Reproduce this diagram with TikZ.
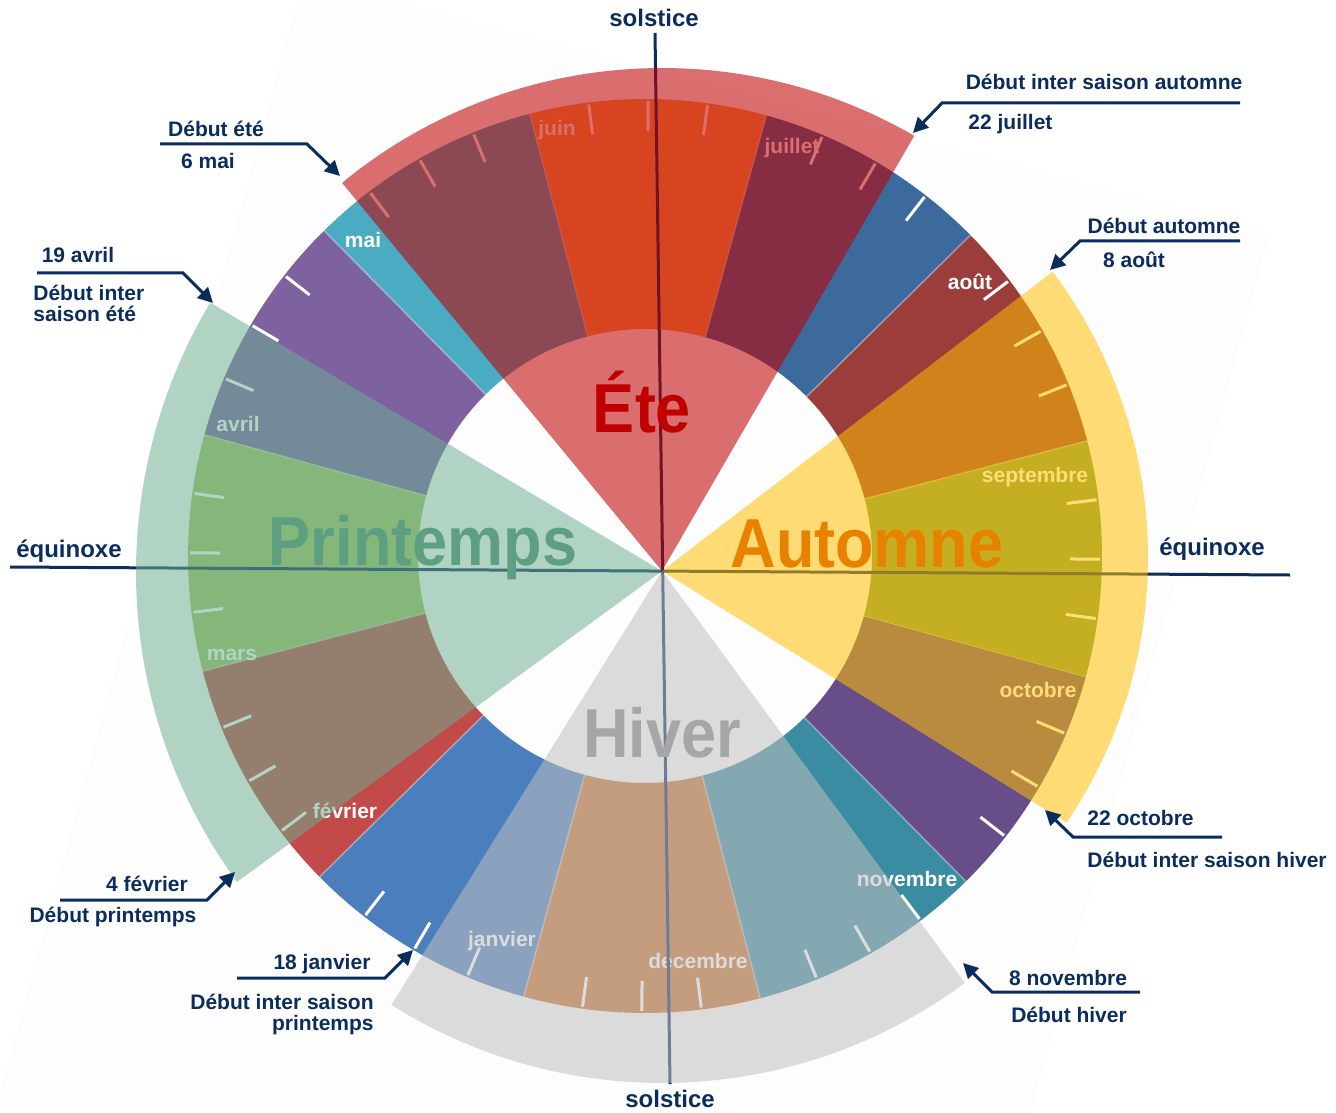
\documentclass[tikz,border=0pt]{standalone}
\usepackage{fontspec}
\setmainfont{Liberation Sans}
\usetikzlibrary{calc,arrows.meta}
\definecolor{navy}{HTML}{0B2D5E}
\definecolor{bgsq}{HTML}{FDFDFD}
\definecolor{csep}{HTML}{7F9949}
\definecolor{caou}{HTML}{9B3D3B}
\definecolor{cjul}{HTML}{3D6A9D}
\definecolor{cjun}{HTML}{F3A04A}
\definecolor{cmai}{HTML}{4AABC2}
\definecolor{cavr}{HTML}{7E62A0}
\definecolor{cmar}{HTML}{9FC060}
\definecolor{cfev}{HTML}{C24A48}
\definecolor{cjan}{HTML}{4A7EBD}
\definecolor{cdec}{HTML}{C97430}
\definecolor{cnov}{HTML}{3A8CA2}
\definecolor{coct}{HTML}{674E89}
\definecolor{wete}{HTML}{C00000}
\definecolor{wpri}{HTML}{6CAF91}
\definecolor{whiv}{HTML}{C0C0C0}
\definecolor{waut}{HTML}{FFC000}
\definecolor{tpri}{HTML}{5E9F82}
\definecolor{taut}{HTML}{E88100}
\definecolor{thiv}{HTML}{A6A6A6}
\tikzset{
  annot/.style={font=\fontsize{10.5pt}{10.5pt}\selectfont\bfseries, text=navy, inner sep=0pt},
  axlabel/.style={font=\fontsize{12pt}{12pt}\selectfont\bfseries, text=navy, inner sep=0pt},
  month/.style={font=\fontsize{10.5pt}{10.5pt}\selectfont\bfseries, text=white, inner sep=0pt},
  season/.style={font=\fontsize{31.5pt}{31.5pt}\selectfont\bfseries, inner sep=0pt, anchor=base},
  pointer/.style={draw=navy, line width=1.5pt, -{Triangle[length=7.5pt,width=7.5pt]}},
  axis/.style={draw=navy, line width=1.5pt},
  tick/.style={draw=white, line width=1.5pt},
}
\begin{document}
\begin{tikzpicture}[x=0.5pt,y=0.5pt]
\useasboundingbox (0,0) rectangle (1336,-1112);
\fill[white] (0,0) rectangle (1336,-1112);
% faint rotated backdrop
\begin{scope}
\clip (0,0) rectangle (1336,-1112);
\fill[bgsq] (303,22) -- (1270,-233) -- (929,-1488) -- (-38,-1232) -- cycle;
\end{scope}
\coordinate (O) at (645,-556);
\coordinate (A) at (662,-571);
% month ring
\foreach \a/\c in {344.6/csep,14.6/caou,44.6/cjul,74.6/cjun,104.6/cmai,134.6/cavr,164.6/cmar,194.6/cfev,224.6/cjan,254.6/cdec,284.6/cnov,314.6/coct}{
  \fill[\c] ($(O)+(\a:227)$) arc[start angle=\a, end angle=\a+30, radius=227]
     -- ($(O)+(\a+30:457)$) arc[start angle=\a+30, end angle=\a, radius=457] -- cycle;
  \draw[white, opacity=0.35, line width=0.8pt] ($(O)+(\a:227)$) -- ($(O)+(\a:457)$);
  \foreach \k in {1,2,3}{
    \draw[tick] ($(O)+(\a+7.5*\k:425)$) -- ($(O)+(\a+7.5*\k:455)$);
  }
}
% month labels
\node[month] (lsep) at (1035,-477) {septembre};
\node[month] (laou) at (970,-282) {août};
\node[month] (ljul) at (792,-148) {juillet};
\node[month] (ljun) at (557,-130) {juin};
\node[month] (lmai) at (363,-240) {mai};
\node[month] (lavr) at (238,-424) {avril};
\node[month] (lmar) at (232,-655) {mars};
\node[month] (lfev) at (345,-811) {février};
\node[month] (ljan) at (502,-941) {janvier};
\node[month] (ldec) at (698,-961) {decembre};
\node[month] (lnov) at (907,-879) {novembre};
\node[month] (loct) at (1038,-690) {octobre};
% axes
\coordinate (st) at (655,-33);
\coordinate (sb) at (670,-1084);
\coordinate (el) at (10,-567);
\coordinate (er) at (1290,-575);
\draw[axis] (st) -- (sb);
\draw[axis] (el) -- (er);
\node[axlabel] (solt) at (654,-18) {solstice};
\node[axlabel] (solb) at (670,-1099) {solstice};
\node[axlabel] (eql) at (69,-551) {équinoxe};
\node[axlabel] (eqr) at (1212,-549) {équinoxe};
% season wedges
\fill[wete, fill opacity=0.57] (A) -- ($(662,-571)+(59.9:503)$) arc[start angle=59.9, end angle=129.5, radius=503] -- cycle;
\fill[wpri, fill opacity=0.53] (A) -- ($(662,-572)+(149.2:526)$) arc[start angle=149.2, end angle=216.1, radius=526] -- cycle;
\fill[whiv, fill opacity=0.55] (A) -- ($(662,-575)+(237.8:508)$) arc[start angle=237.8, end angle=306.6, radius=508] -- cycle;
\fill[waut, fill opacity=0.54] (A) -- ($(674,-557)+(-34.1:474)$) arc[start angle=-34.1, end angle=37, radius=474] -- cycle;
% season names
\node[season, text=wete] (sete) at (642,-432) {\scalebox{1}[1.1]{Éte}};
\node[season, text=tpri] (spri) at (423,-565) {\scalebox{1}[1.1]{Printemps}};
\node[season, text=taut] (saut) at (867,-567) {\scalebox{1}[1.1]{Automne}};
\node[season, text=thiv] (shiv) at (662,-757) {\scalebox{1}[1.1]{Hiver}};
% annotations
\coordinate (p1a) at (160,-144); \coordinate (p1b) at (307,-144); \coordinate (p1c) at (340,-176);
\draw[pointer] (p1a) -- (p1b) -- (p1c);
\node[annot] (t1a) at (216,-129) {Début été};
\node[annot] (t1b) at (208,-161) {6 mai};

\coordinate (p2a) at (1240,-103); \coordinate (p2b) at (942,-103); \coordinate (p2c) at (913,-133);
\draw[pointer] (p2a) -- (p2b) -- (p2c);
\node[annot] (t2a) at (1104,-82) {Début inter saison automne};
\node[annot, anchor=west] (t2b) at (968,-124) {22 juillet};

\coordinate (p3a) at (1240,-241); \coordinate (p3b) at (1080,-241); \coordinate (p3c) at (1050,-270);
\draw[pointer] (p3a) -- (p3b) -- (p3c);
\node[annot] (t3a) at (1164,-226) {Début automne};
\node[annot] (t3b) at (1134,-260) {8 août};

\coordinate (p4a) at (37,-273); \coordinate (p4b) at (183,-273); \coordinate (p4c) at (213,-303);
\draw[pointer] (p4a) -- (p4b) -- (p4c);
\node[annot] (t4a) at (78,-255) {19 avril};
\node[annot, anchor=west] (t4b) at (33,-293) {Début inter};
\node[annot, anchor=west] (t4c) at (33,-314) {saison été};

\coordinate (p5a) at (60,-900); \coordinate (p5b) at (207,-900); \coordinate (p5c) at (235,-872);
\draw[pointer] (p5a) -- (p5b) -- (p5c);
\node[annot] (t5a) at (147,-884) {4 février};
\node[annot] (t5b) at (113,-917) {Début printemps};

\coordinate (p6a) at (237,-978); \coordinate (p6b) at (385,-978); \coordinate (p6c) at (413,-950);
\draw[pointer] (p6a) -- (p6b) -- (p6c);
\node[annot] (t6a) at (322,-964) {18 janvier};
\node[annot, anchor=east] (t6b) at (374,-1002) {Début inter saison};
\node[annot, anchor=east] (t6c) at (374,-1025) {printemps};

\coordinate (p7a) at (1140,-992); \coordinate (p7b) at (992,-992); \coordinate (p7c) at (963,-963);
\draw[pointer] (p7a) -- (p7b) -- (p7c);
\node[annot] (t7a) at (1068,-978) {8 novembre};
\node[annot] (t7b) at (1069,-1015) {Début hiver};

\coordinate (p8a) at (1222,-837); \coordinate (p8b) at (1073,-837); \coordinate (p8c) at (1045,-810);
\draw[pointer] (p8a) -- (p8b) -- (p8c);
\node[annot, anchor=west] (t8a) at (1087,-818) {22 octobre};
\node[annot, anchor=west] (t8b) at (1087,-860) {Début inter saison hiver};
\end{tikzpicture}
\end{document}
